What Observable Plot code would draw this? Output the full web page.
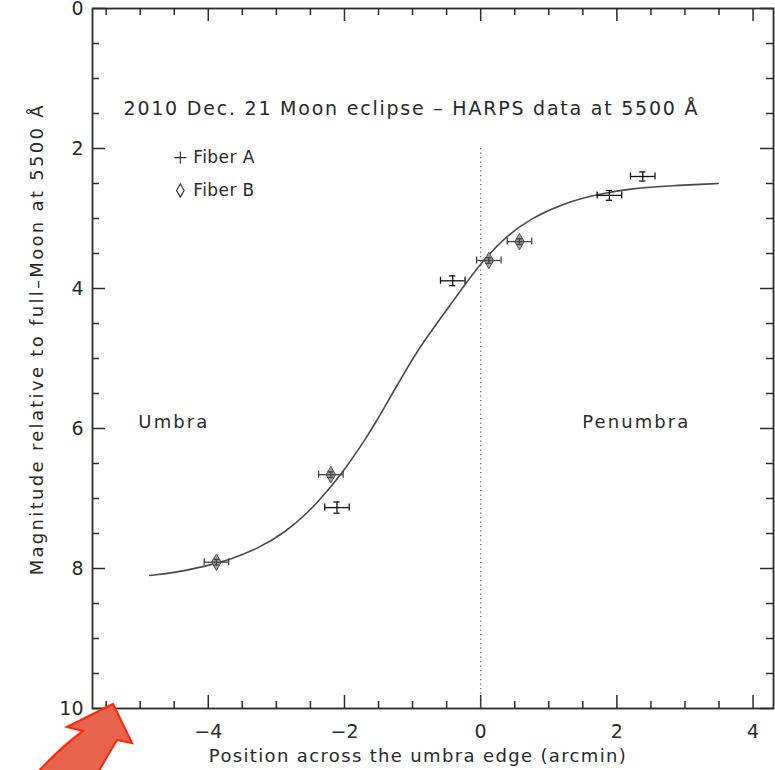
<!DOCTYPE html>
<html>
<head>
<meta charset="utf-8">
<script src="https://cdn.jsdelivr.net/npm/d3@7"></script>
<script src="https://cdn.jsdelivr.net/npm/@observablehq/plot@0.6"></script>
<style>
  body { margin: 0; background: #fff; }
  #chart { width: 775px; height: 770px; }
</style>
</head>
<body>
<div id="chart"></div>
<script>
// HARPS measurements, Fiber A (position across the umbra edge, arcmin; magnitude)
const fiberAPos    = [2.38, 1.89, -0.41, -2.11];
const fiberAMag    = [2.40, 2.67, 3.89, 7.13];
const fiberAPosErr = [0.18, 0.18, 0.18, 0.18];
const fiberAMagErr = [0.065, 0.07, 0.07, 0.08];

// HARPS measurements, Fiber B
const fiberBPos    = [0.12, 0.57, -2.20, -3.88];
const fiberBMag    = [3.60, 3.33, 6.66, 7.91];
const fiberBPosErr = [0.18, 0.18, 0.18, 0.18];
const fiberBMagErr = [0.04, 0.04, 0.04, 0.04];

// Fitted profile across the umbra edge
const modelPos = [-4.86, -4.49, -4.05, -3.70, -3.26, -2.88, -2.53, -2.23, -2.00, -1.75, -1.53,
                  -1.31, -1.10, -0.91, -0.57, -0.28, 0.01, 0.35, 0.75, 1.23, 1.73, 2.22, 2.80, 3.49];
const modelMag = [8.10, 8.06, 7.97, 7.88, 7.71, 7.49, 7.20, 6.87, 6.59, 6.24, 5.90,
                  5.52, 5.17, 4.86, 4.40, 4.01, 3.63, 3.27, 2.99, 2.78, 2.65, 2.57, 2.53, 2.50];

// Axis ticks
const xMajorTicks = [-4, -2, 0, 2, 4];
const xMinorTicks = [-5.5, -5, -4.5, -3.5, -3, -2.5, -1.5, -1, -0.5, 0.5, 1, 1.5, 2.5, 3, 3.5];
const yMajorTicks = [0, 2, 4, 6, 8, 10];
const yMinorTicks = [0.5, 1, 1.5, 2.5, 3, 3.5, 4.5, 5, 5.5, 6.5, 7, 7.5, 8.5, 9, 9.5];

// Texts
const titleText = "2010 Dec. 21 Moon eclipse \u2013 HARPS data at 5500 \u00c5";
const xLabel = "Position across the umbra edge (arcmin)";
const yLabel = "Magnitude relative to full\u2013Moon at 5500 \u00c5";
const legendLabels = ["Fiber A", "Fiber B"];
const regionLabels = [{text: "Umbra", pos: -4.52}, {text: "Penumbra", pos: 2.27}];
const umbraEdgePos = 0;
const umbraEdgeTopMag = 2;

const fiberA = fiberAPos.map((x, i) => ({x, y: fiberAMag[i], dx: fiberAPosErr[i], dy: fiberAMagErr[i]}));
const fiberB = fiberBPos.map((x, i) => ({x, y: fiberBMag[i], dx: fiberBPosErr[i], dy: fiberBMagErr[i]}));
const model = modelPos.map((x, i) => ({x, y: modelMag[i]}));

const W = 775, H = 770;
const mL = 92, mR = 2, mT = 8, mB = 62;
const frameW = W - mL - mR, frameH = H - mT - mB;
const majorLen = 13, minorLen = 7;
const ink = "#2a2a2a";
const font = "DejaVu Sans";

// The plotting font is narrower than the original lettering: stretch these texts to their set widths
const textWidths = new Map([
  [titleText, 574], [xLabel, 417], [yLabel, 470],
  ["Fiber A", 61], ["Fiber B", 61], ["Umbra", 69], ["Penumbra", 106]
]);

// error bars drawn for one fiber
function errorBars(data, color, capX, capY) {
  const o = {stroke: color, strokeWidth: 1.3};
  return [
    Plot.ruleY(data, {y: "y", x1: d => d.x - d.dx, x2: d => d.x + d.dx, ...o}),
    Plot.ruleX(data, {x: d => d.x - d.dx, y1: d => d.y - capY, y2: d => d.y + capY, ...o}),
    Plot.ruleX(data, {x: d => d.x + d.dx, y1: d => d.y - capY, y2: d => d.y + capY, ...o}),
    Plot.ruleX(data, {x: "x", y1: d => d.y - d.dy, y2: d => d.y + d.dy, ...o}),
    Plot.ruleY(data, {y: d => d.y - d.dy, x1: d => d.x - capX, x2: d => d.x + capX, ...o}),
    Plot.ruleY(data, {y: d => d.y + d.dy, x1: d => d.x - capX, x2: d => d.x + capX, ...o})
  ];
}

const plot = Plot.plot({
  width: W,
  height: H,
  marginLeft: mL,
  marginRight: mR,
  marginTop: mT,
  marginBottom: mB,
  style: {fontFamily: font, color: ink, background: "#fff"},
  x: {domain: [-5.7, 4.3]},
  y: {domain: [0, 10], reverse: true},
  marks: [
    // tick labels
    Plot.axisX(xMajorTicks, {anchor: "bottom", tickSize: 0, tickPadding: 16, fontSize: 19, label: null, fill: ink}),
    Plot.axisY(yMajorTicks, {anchor: "left", tickSize: 0, tickPadding: 9, fontSize: 19, label: null, fill: ink, tickFormat: "d"}),

    // inward ticks on all four sides
    Plot.ruleX(xMajorTicks, {x: d => d, insetTop: frameH - majorLen, stroke: ink, strokeWidth: 1.5}),
    Plot.ruleX(xMinorTicks, {x: d => d, insetTop: frameH - minorLen, stroke: ink, strokeWidth: 1.5}),
    Plot.ruleX(xMajorTicks, {x: d => d, insetBottom: frameH - majorLen, stroke: ink, strokeWidth: 1.5}),
    Plot.ruleX(xMinorTicks, {x: d => d, insetBottom: frameH - minorLen, stroke: ink, strokeWidth: 1.5}),
    Plot.ruleY(yMajorTicks, {y: d => d, insetRight: frameW - majorLen, stroke: ink, strokeWidth: 1.5}),
    Plot.ruleY(yMinorTicks, {y: d => d, insetRight: frameW - minorLen, stroke: ink, strokeWidth: 1.5}),
    Plot.ruleY(yMajorTicks, {y: d => d, insetLeft: frameW - majorLen, stroke: ink, strokeWidth: 1.5}),
    Plot.ruleY(yMinorTicks, {y: d => d, insetLeft: frameW - minorLen, stroke: ink, strokeWidth: 1.5}),

    Plot.frame({stroke: ink, strokeWidth: 1.8}),

    // umbra edge
    Plot.ruleX([umbraEdgePos], {x: d => d, y1: umbraEdgeTopMag, y2: 10, stroke: "#666", strokeWidth: 1.2, strokeDasharray: "1.2,3.3"}),

    // fitted profile
    Plot.line(model, {x: "x", y: "y", curve: "basis", stroke: "#4a4a4a", strokeWidth: 1.6}),

    // measurements
    Plot.dot(fiberB, {x: "x", y: "y", symbol: "diamond", r: 5, fill: "#a0a0a0", stroke: "#555", strokeWidth: 1}),
    ...errorBars(fiberB, "#444", 0.045, 0.05),
    ...errorBars(fiberA, "#111", 0.045, 0.05),

    // legend
    Plot.dot(legendLabels, {x: -4.41, y: (d, i) => 2.13 + i * 0.47, symbol: (d, i) => i === 0 ? "plus" : "diamond",
      r: 4, stroke: ink, strokeWidth: 1.1, fill: "none"}),
    Plot.text(legendLabels, {x: -4.22, y: (d, i) => 2.13 + i * 0.47, text: d => d, textAnchor: "start",
      fontSize: 17, fill: ink}),

    // title
    Plot.text([titleText], {x: -1.03, y: 1.43, text: d => d, fontSize: 19, fill: ink}),

    // region labels
    Plot.text(regionLabels, {x: "pos", y: 5.91, text: "text", fontSize: 18, fill: ink}),

    // axis titles
    Plot.text([xLabel], {x: -0.93, frameAnchor: "bottom", dy: 47.5, lineAnchor: "middle", text: d => d, fontSize: 18, fill: ink}),
    Plot.text([yLabel], {y: 4.74, frameAnchor: "left", dx: -55, rotate: -90, textAnchor: "middle", lineAnchor: "middle",
      text: d => d, fontSize: 18, fill: ink})
  ]
});

d3.select(plot).selectAll("text").each(function() {
  const w = textWidths.get(this.textContent);
  if (w) d3.select(this).attr("textLength", w).attr("lengthAdjust", "spacing");
});

document.getElementById("chart").appendChild(plot);

// Curved call-out arrow pointing at the lower-left corner of the frame
const sx = plot.scale("x"), sy = plot.scale("y");
const tipX = sx.apply(-5.7) + 21, tipY = sy.apply(10) - 4;
const arrowOutline = [
  ["M", 0, 0], ["L", 19, 39], ["L", 4, 36], ["Q", -5, 51, -16, 70],
  ["L", -77, 70], ["Q", -53, 44, -30, 27], ["L", -46, 23], ["Z"]
];
const arrowPath = arrowOutline.map(([c, ...v]) => {
  const pts = [];
  for (let k = 0; k < v.length; k += 2) pts.push((tipX + v[k]) + "," + (tipY + v[k + 1]));
  return c + pts.join(" ");
}).join(" ");
d3.select(plot).append("path")
  .attr("d", arrowPath)
  .attr("fill", "#e8644c")
  .attr("stroke", "#ff2a0a")
  .attr("stroke-width", 2.2)
  .attr("stroke-linejoin", "miter");
</script>
</body>
</html>
